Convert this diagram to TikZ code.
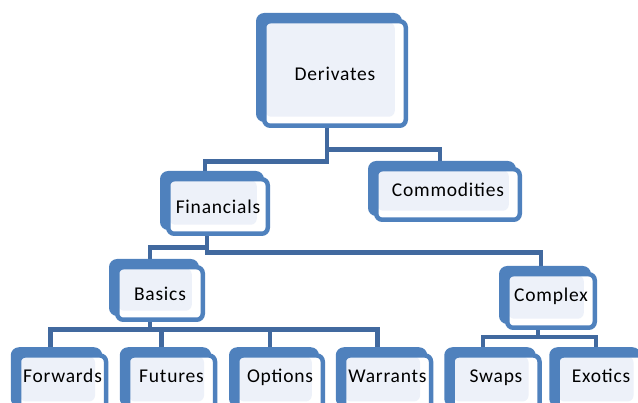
\documentclass[tikz,border=0pt]{standalone}
\usepackage{fontspec}
\setmainfont{Carlito}[LetterSpace=4]
\usetikzlibrary{shadows,calc}
\definecolor{boxblue}{HTML}{4F81BD}
\definecolor{connblue}{HTML}{41699F}
\definecolor{lightfill}{HTML}{EDF1F9}
\tikzset{
  dbox/.style={rectangle, rounded corners=6pt, draw=boxblue, line width=4.5pt, fill=white,
    general shadow={shadow xshift=-6pt, shadow yshift=6pt, fill=boxblue, draw=boxblue, line width=4.5pt},
    path picture={\fill[lightfill] ([shift={(1pt,-1pt)}]path picture bounding box.north west) rectangle ([shift={(-11pt,9pt)}]path picture bounding box.south east);},
    font=\fontsize{19.5}{22}\selectfont, text=black, inner sep=0pt},
  leaf/.style={dbox, minimum width=87pt, minimum height=55pt, text height=13pt, text depth=14pt},
  conn/.style={draw=connblue, line width=4.5pt}
}
\begin{document}
\begin{tikzpicture}[x=1pt,y=1pt]
\useasboundingbox (0,0) rectangle (638,-403);
\clip (0,0) rectangle (638,-403);
% node centres
\path
  (335,-73.5) coordinate (cD)
  (218,-206.5) coordinate (cFin)
  (448,-194.5) coordinate (cCom)
  (160,-293.5) coordinate (cBas)
  (551,-301) coordinate (cCpx)
  (62.5,-383) coordinate (cFw)
  (171.5,-383) coordinate (cFu)
  (280,-383) coordinate (cOp)
  (387.5,-383) coordinate (cWa)
  (496,-383) coordinate (cSw)
  (601,-383) coordinate (cEx);
% connectors
\draw[conn] ($(cD)+(-8,-54)$) -- ++(0,-22) -| ($(cCom)+(-8,-20)$);
\draw[conn] ($(cD)+(-8,-54)$) -- ++(0,-34) -| ($(cFin)+(-13,-20)$);
\draw[conn] ($(cFin)+(-11,-29)$) -- ++(0,-17) -| ($(cCpx)+(-10,-20)$);
\draw[conn] ($(cFin)+(-11,-29)$) -- ++(0,-12) -| ($(cBas)+(-10,-20)$);
\draw[conn] ($(cBas)+(-10,-28)$) -- ++(0,-8) -| ($(cFw)+(-12,0)$);
\draw[conn] ($(cBas)+(-10,-28)$) -- ++(0,-8) -| ($(cFu)+(-10,0)$);
\draw[conn] ($(cBas)+(-10,-28)$) -- ++(0,-8) -| ($(cOp)+(-10,0)$);
\draw[conn] ($(cBas)+(-10,-28)$) -- ++(0,-8) -| ($(cWa)+(-10,0)$);
\draw[conn] ($(cCpx)+(-13,-29)$) -- ++(0,-7) -| ($(cSw)+(-13,0)$);
\draw[conn] ($(cCpx)+(-13,-29)$) -- ++(0,-7) -| ($(cEx)+(-5,0)$);
% boxes
\node[dbox, minimum width=141.5pt, minimum height=104.5pt] (D) at (cD) {Derivates};
\node[dbox, minimum width=99.5pt, minimum height=54.5pt] (Fin) at (cFin) {Financials};
\node[dbox, minimum width=143.5pt, minimum height=50.5pt, text height=13pt, text depth=8pt] (Com) at (cCom) {Commodities};
\node[dbox, minimum width=85.5pt, minimum height=52.5pt] (Bas) at (cBas) {Basics};
\node[dbox, minimum width=87.5pt, minimum height=53.5pt, text height=13pt, text depth=11pt] (Cpx) at (cCpx) {Complex};
\node[leaf] (Fw) at (cFw) {Forwards};
\node[leaf] (Fu) at (cFu) {Futures};
\node[leaf, minimum width=85.5pt] (Op) at (cOp) {Options};
\node[leaf] (Wa) at (cWa) {Warrants};
\node[leaf] (Sw) at (cSw) {Swaps};
\node[leaf] (Ex) at (cEx) {Exotics};
\end{tikzpicture}
\end{document}
